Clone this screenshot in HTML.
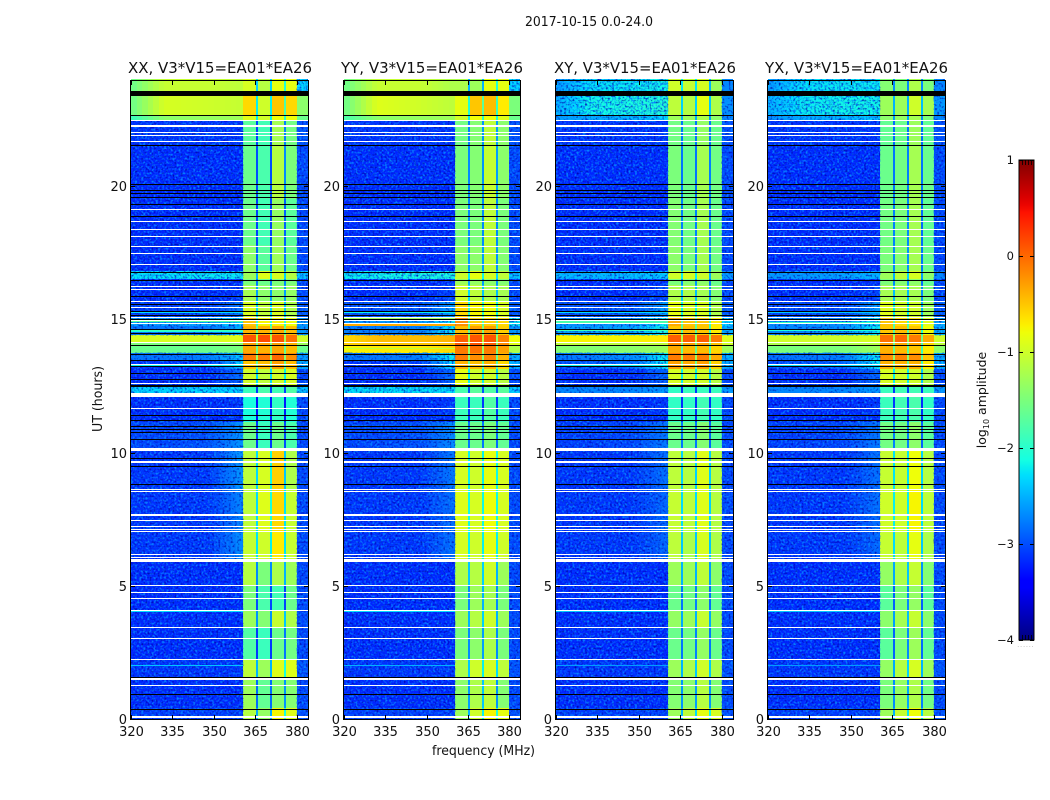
<!DOCTYPE html>
<html lang="en">
<head>
<meta charset="utf-8">
<title>2017-10-15 amplitude waterfall</title>
<style>
html,body{margin:0;padding:0;background:#fff;}
svg{display:block;font-family:"DejaVu Sans","Liberation Sans",sans-serif;fill:#111;}
</style>
</head>
<body>
<svg id="chart" xmlns="http://www.w3.org/2000/svg" width="1050" height="800" viewBox="0 0 1050 800">
  <defs>
    <filter id="speckle-light" x="0" y="0" width="100%" height="100%" color-interpolation-filters="sRGB">
      <feTurbulence type="fractalNoise" baseFrequency="0.48" numOctaves="1" seed="7"/>
      <feColorMatrix type="matrix" values="0 0 0 0 0.02  0 0 0 0 0.5  0 0 0 0 1  3.6 0 0 0 -1.65"/>
    </filter>
    <filter id="speckle-dark" x="0" y="0" width="100%" height="100%" color-interpolation-filters="sRGB">
      <feTurbulence type="fractalNoise" baseFrequency="0.48" numOctaves="1" seed="23"/>
      <feColorMatrix type="matrix" values="0 0 0 0 0  0 0 0 0 0  0 0 0 0 0.65  3 0 0 0 -1.6"/>
    </filter>
    <linearGradient id="colorbar-gradient" x1="0" y1="1" x2="0" y2="0"></linearGradient>
  </defs>
  <text x="589" y="26" font-size="13" text-anchor="middle" textLength="128" lengthAdjust="spacingAndGlyphs">2017-10-15 0.0-24.0</text>
  <text x="483.5" y="755" font-size="13" text-anchor="middle" textLength="103" lengthAdjust="spacingAndGlyphs">frequency (MHz)</text>
  <text transform="translate(102,399) rotate(-90)" font-size="13" text-anchor="middle" textLength="66" lengthAdjust="spacingAndGlyphs">UT (hours)</text>
  <text transform="translate(986,400) rotate(-90)" font-size="12.5" text-anchor="middle">log<tspan font-size="8" dy="3">10</tspan><tspan dy="-3"> amplitude</tspan></text>
  <g id="panels"></g>
  <g id="colorbar"></g>
</svg>
<script>
// Axis data
const panelTitles = ['XX, V3*V15=EA01*EA26', 'YY, V3*V15=EA01*EA26', 'XY, V3*V15=EA01*EA26', 'YX, V3*V15=EA01*EA26'];
const freqTicks = [320, 335, 350, 365, 380];
const utTicks = [0, 5, 10, 15, 20];
const colorTicks = [1, 0, -1, -2, -3, -4];

// Out-of-band anchor frequencies (MHz) for the first four amplitude columns
const lowAnchors = [320, 332, 348, 359];
// In-band channel groups (MHz): A, notch, B, notch, C, notch, D, E
const bandEdges = [360.5, 365.1, 365.9, 370.2, 371, 375.2, 376, 380, 384];
// Time bins (UT hours)
const utEdges = [0, .4, 1.45, 2.25, 3.4, 4.1, 5, 5.9, 7, 8.6, 10.05, 11.15, 12.1, 12.55, 13.15, 13.45, 13.75, 14, 14.15, 14.4, 14.75, 15.1, 15.7, 16.3, 16.5, 16.8, 17.8, 19.5, 21.5, 22.45, 22.66, 23.38, 23.56, 24];
const notchDepth = [1.2];

// log10 amplitude per time bin: a320, a332, a348, a359, A, B, C, D, E
const ampXX = [
[-3.1,-3.1,-3.1,-3.1,-1.15,-1.35,-.75,-.9,-3],
[-3.2,-3.2,-3.2,-3.2,-1.3,-1.65,-1.45,-1.45,-3.05],
[-3.15,-3.15,-3.15,-3.15,-1.1,-1.3,-.9,-.9,-3],
[-3.2,-3.2,-3.2,-3.2,-1.75,-1.9,-1.6,-1.55,-3.05],
[-3.2,-3.2,-3.2,-3.2,-1.3,-1.45,-1.05,-1.2,-3.05],
[-3.2,-3.2,-3.2,-3.2,-1.5,-1.8,-1.85,-1.6,-3.05],
[-3.2,-3.2,-3.2,-3.2,-1.15,-1.5,-1.2,-1.3,-3.05],
[-3.15,-3.15,-3.15,-2.7,-1.05,-1,-.7,-1.05,-3.05],
[-3.15,-3.15,-3.15,-2.75,-1.1,-.9,-.6,-1.05,-3.05],
[-3.15,-3.15,-3.15,-2.65,-1.1,-.95,-.55,-1.2,-3.05],
[-3.05,-3.05,-3,-2.65,-1.6,-1.9,-1.6,-1.8,-3.05],
[-3.2,-3.2,-3.2,-3.15,-2.1,-2.05,-1.95,-2.05,-3.05],
[-2.3,-2.3,-2.3,-2.3,-1.9,-1.8,-1.85,-1.75,-2.35],
[-3.2,-3.2,-3.2,-2.9,-1,-1.1,-1,-.95,-3.05],
[-3.15,-3.15,-3.15,-2.4,-.5,-.45,-.3,-.45,-2.5],
[-2.8,-2.8,-2.75,-2.4,-.1,-.1,0,-.2,-2.6],
[-1.6,-1.6,-1.6,-1.5,-.35,-.4,-.35,-.45,-1.6],
[-1.5,-1.5,-1.5,-1.4,-.3,-.3,-.3,-.4,-1.3],
[-.95,-.95,-.95,-.9,.1,.15,.1,-.05,-1],
[-2.8,-2.8,-2.8,-2.5,-.4,-.4,-.35,-.45,-2.6],
[-2.55,-2.55,-2.55,-2.3,-.5,-.75,-.75,-.8,-2.6],
[-3.1,-3.1,-3.1,-2.8,-.95,-1.1,-.95,-1.2,-2.95],
[-3.2,-3.2,-3.2,-3.15,-1.25,-1.4,-1.4,-1.35,-3.05],
[-3.2,-3.2,-3.2,-3.15,-1.5,-1.6,-1.5,-1.5,-3.05],
[-2.25,-2.25,-2.2,-2.2,-1.3,-.9,-.95,-1.15,-2.4],
[-3.2,-3.2,-3.2,-3.2,-1.4,-1.7,-1.3,-1.6,-3.05],
[-3.2,-3.2,-3.2,-3.2,-1.6,-1.85,-1.35,-1.7,-3.05],
[-3.2,-3.2,-3.2,-3.2,-1.6,-1.8,-1.15,-1.5,-3.05],
[-3.15,-3.15,-3.15,-3.15,-1.7,-1.85,-1.25,-1.55,-3],
[-1.9,-1.4,-1.35,-1.3,-.9,-1,-.8,-.8,-1.6],
[-1.6,-.95,-1,-1.05,-.6,-1,-.5,-.6,-1.4],
[-1.6,-1,-1,-1.05,-.6,-1,-.5,-.6,-1.4],
[-1.6,-1.05,-1.05,-1.1,-.95,-1.15,-.85,-.85,-2.3]
];
const ampYY = [
[-3.1,-3.1,-3.1,-3.1,-1.3,-1,-.75,-.85,-3],
[-3.2,-3.2,-3.2,-3.2,-1.4,-1.2,-1.1,-1.45,-3.05],
[-3.15,-3.15,-3.15,-3.15,-1.2,-1,-.95,-1.1,-3],
[-3.2,-3.2,-3.2,-3.2,-1.5,-1.4,-1.2,-1.5,-3.05],
[-3.2,-3.2,-3.2,-3.2,-1.3,-1.15,-1,-1.3,-3.05],
[-3.2,-3.2,-3.2,-3.2,-1.5,-1.3,-1.25,-1.5,-3.05],
[-3.2,-3.2,-3.2,-3.2,-1.2,-1.15,-1,-1.3,-3.05],
[-3.15,-3.15,-3.15,-2.85,-.95,-1,-.85,-1,-3.05],
[-3.15,-3.15,-3.15,-2.85,-.9,-.95,-.8,-.95,-3.05],
[-3.15,-3.15,-3.15,-2.8,-.95,-1,-.85,-.95,-3.05],
[-3.05,-3.05,-3,-2.7,-1.6,-1.6,-1.5,-1.65,-3.05],
[-3.2,-3.2,-3.2,-3.15,-1.9,-1.9,-1.75,-1.9,-3.05],
[-2.25,-2.25,-2.25,-2.25,-1.8,-1.7,-1.75,-1.7,-2.35],
[-3.2,-3.2,-3.2,-2.9,-.85,-1,-1,-1.15,-3.05],
[-3.15,-3.15,-3.1,-2.3,-.4,-.45,-.4,-.6,-2.5],
[-2.8,-2.8,-2.75,-2.2,-.1,-.2,-.15,-.4,-2.5],
[-.75,-.7,-.7,-.6,-.1,-.05,-.1,-.3,-1.2],
[-.55,-.5,-.5,-.45,.05,.1,.05,-.2,-.9],
[-.6,-.45,-.45,-.4,.05,.1,.1,-.15,-.8],
[-2.75,-2.75,-2.75,-2.2,-.45,-.3,-.3,-.55,-2.6],
[-2.6,-2.6,-2.6,-2.2,-.2,-.55,-.55,-.6,-2.2],
[-3,-3,-3,-2.6,-.6,-.75,-.8,-.95,-2.95],
[-3.2,-3.2,-3.2,-3.1,-1,-1.1,-1.2,-1.25,-3.05],
[-3.2,-3.2,-3.2,-3.15,-1.3,-1.35,-1.4,-1.45,-3.05],
[-2.2,-2.15,-2.1,-2.1,-1,-.85,-.95,-1.1,-2.35],
[-3.2,-3.2,-3.2,-3.2,-1.4,-1.4,-1.1,-1.45,-3.05],
[-3.2,-3.2,-3.2,-3.2,-1.5,-1.5,-1.1,-1.5,-3.05],
[-3.2,-3.2,-3.2,-3.2,-1.5,-1.45,-1.05,-1.4,-3.05],
[-3.15,-3.15,-3.15,-3.15,-1.55,-1.45,-1.1,-1.4,-3],
[-1.8,-1.4,-1.35,-1.3,-1,-.8,-.8,-.9,-1.6],
[-1.6,-.9,-1,-1.1,-.85,-.5,-.45,-.7,-1.5],
[-1.6,-.95,-1,-1.1,-.85,-.5,-.45,-.7,-1.5],
[-1.6,-1.05,-1.05,-1.2,-1.2,-1.3,-.85,-.85,-2.3]
];
const ampXY = [
[-3.1,-3.1,-3.1,-3.1,-1.3,-1.1,-.85,-.95,-3],
[-3.2,-3.2,-3.2,-3.2,-1.45,-1.4,-1.15,-1.45,-3.05],
[-3.15,-3.15,-3.15,-3.15,-1.3,-1.2,-1,-1.2,-3],
[-3.2,-3.2,-3.2,-3.2,-1.6,-1.55,-1.35,-1.6,-3.05],
[-3.2,-3.2,-3.2,-3.2,-1.35,-1.3,-1.05,-1.35,-3.05],
[-3.2,-3.2,-3.2,-3.2,-1.6,-1.55,-1.4,-1.65,-3.05],
[-3.2,-3.2,-3.2,-3.2,-1.3,-1.3,-1.1,-1.4,-3.05],
[-3.15,-3.15,-3.15,-2.9,-1.1,-1.2,-.95,-1.2,-3.05],
[-3.15,-3.15,-3.15,-2.9,-1.05,-1.1,-.9,-1.15,-3.05],
[-3.15,-3.15,-3.15,-2.85,-1.1,-1.15,-.9,-1.15,-3.05],
[-3.1,-3.1,-3.05,-2.8,-1.6,-1.6,-1.45,-1.7,-3.05],
[-3.2,-3.2,-3.2,-3.15,-1.95,-1.95,-1.85,-1.95,-3.05],
[-2.7,-2.7,-2.7,-2.6,-1.95,-1.9,-1.9,-1.9,-2.6],
[-3.2,-3.2,-3.2,-2.9,-.95,-1,-1,-1.15,-3.05],
[-3,-2.95,-2.85,-2.2,-.3,-.35,-.3,-.55,-2.5],
[-2.8,-2.75,-2.65,-2.2,-.1,-.1,-.1,-.35,-2.5],
[-1.45,-1.45,-1.4,-1.3,-.35,-.45,-.45,-.6,-1.3],
[-1.1,-1.1,-1.15,-1.1,-.25,-.3,-.3,-.5,-1],
[-.75,-.75,-.75,-.7,.05,.05,.05,-.1,-.9],
[-2.55,-2.55,-2.55,-2.1,-.5,-.45,-.5,-.7,-2.5],
[-2.6,-2.6,-2.6,-2.2,-.35,-.5,-.5,-.7,-2.3],
[-3,-3,-3,-2.6,-.85,-.95,-.95,-1.2,-2.95],
[-3.2,-3.2,-3.2,-3.1,-1.2,-1.2,-1.25,-1.45,-3.05],
[-3.2,-3.2,-3.2,-3.15,-1.5,-1.45,-1.4,-1.6,-3.05],
[-2.45,-2.45,-2.4,-2.35,-1,-.95,-1,-1.3,-2.6],
[-3.2,-3.2,-3.2,-3.2,-1.4,-1.5,-1.25,-1.55,-3.05],
[-3.2,-3.2,-3.2,-3.2,-1.45,-1.55,-1.25,-1.6,-3.05],
[-3.2,-3.2,-3.2,-3.2,-1.5,-1.6,-1.25,-1.55,-3.05],
[-3.15,-3.15,-3.15,-3.15,-1.55,-1.6,-1.35,-1.6,-3],
[-2.6,-2.5,-2.45,-2.3,-1.3,-1.3,-1.2,-1.4,-2.7],
[-2.5,-2.15,-2.1,-2.05,-1.1,-1.15,-.85,-1.2,-2.65],
[-2.5,-2.15,-2.1,-2.05,-1.1,-1.15,-.85,-1.2,-2.65],
[-2.6,-2.25,-2.2,-2.15,-1,-1.05,-.95,-1.3,-2.7]
];
const ampYX = [
[-3.1,-3.1,-3.1,-3.1,-1.3,-1.05,-.8,-1.15,-3],
[-3.2,-3.2,-3.2,-3.2,-1.5,-1.35,-1.2,-1.55,-3.05],
[-3.15,-3.15,-3.15,-3.15,-1.35,-1.15,-.95,-1.3,-3],
[-3.2,-3.2,-3.2,-3.2,-1.7,-1.5,-1.3,-1.65,-3.05],
[-3.2,-3.2,-3.2,-3.2,-1.4,-1.25,-1.05,-1.4,-3.05],
[-3.2,-3.2,-3.2,-3.2,-1.7,-1.5,-1.35,-1.7,-3.05],
[-3.2,-3.2,-3.2,-3.2,-1.35,-1.2,-1.05,-1.45,-3.05],
[-3.15,-3.15,-3.15,-2.9,-1.05,-1.1,-.85,-1.2,-3.05],
[-3.15,-3.15,-3.15,-2.85,-1,-1,-.75,-1.1,-3.05],
[-3.15,-3.15,-3.15,-2.85,-1.05,-1.05,-.8,-1.15,-3.05],
[-3.1,-3.1,-3.05,-2.8,-1.55,-1.55,-1.4,-1.7,-3.05],
[-3.2,-3.2,-3.2,-3.15,-1.9,-1.85,-1.8,-1.95,-3.05],
[-2.7,-2.7,-2.7,-2.6,-1.9,-1.85,-1.85,-1.9,-2.6],
[-3.2,-3.2,-3.2,-2.9,-.95,-1,-1,-1.2,-3.05],
[-3.05,-3,-2.9,-2.2,-.4,-.4,-.4,-.7,-2.5],
[-2.85,-2.8,-2.75,-2.2,-.2,-.15,-.2,-.5,-2.5],
[-1.5,-1.5,-1.5,-1.3,-.4,-.45,-.5,-.7,-1.4],
[-1.2,-1.2,-1.2,-1.15,-.3,-.35,-.35,-.6,-1.1],
[-1,-1,-1,-.95,-.05,0,-.1,-.35,-1],
[-2.7,-2.7,-2.65,-2.2,-.5,-.45,-.5,-.8,-2.5],
[-2.65,-2.65,-2.65,-2.2,-.5,-.6,-.65,-.9,-2.5],
[-3.05,-3.05,-3.05,-2.6,-.9,-1,-1,-1.3,-2.95],
[-3.2,-3.2,-3.2,-3.1,-1.25,-1.25,-1.25,-1.5,-3.05],
[-3.2,-3.2,-3.2,-3.15,-1.5,-1.45,-1.4,-1.65,-3.05],
[-2.6,-2.6,-2.55,-2.45,-1.3,-1.1,-.95,-1.4,-2.7],
[-3.2,-3.2,-3.2,-3.2,-1.5,-1.45,-1.25,-1.6,-3.05],
[-3.2,-3.2,-3.2,-3.2,-1.55,-1.5,-1.25,-1.65,-3.05],
[-3.2,-3.2,-3.2,-3.2,-1.6,-1.55,-1.25,-1.6,-3.05],
[-3.15,-3.15,-3.15,-3.15,-1.65,-1.6,-1.3,-1.65,-3],
[-2.65,-2.5,-2.45,-2.35,-1.4,-1.35,-1.25,-1.5,-2.7],
[-2.5,-2.2,-2.15,-2.15,-1.3,-1.3,-1,-1.25,-2.6],
[-2.5,-2.2,-2.15,-2.15,-1.3,-1.3,-1,-1.25,-2.6],
[-2.6,-2.25,-2.2,-2.2,-1.45,-1.5,-1.2,-1.5,-2.7]
];
const panelAmps = [ampXX, ampYY, ampXY, ampYX];

// Thin out-of-band streaks per polarisation: [UT centre, duration hours, log10 amplitude]
const streaksXX = [[2.02,.04,-2.4],[4.03,.04,-2.3],[13.3,.06,-2.2],[14.62,.06,-1.9],[14.52,.05,-2.1],[14.95,.06,-1.7],[15.25,.05,-2.3]];
const streaksYY = [[2.02,.04,-2.5],[4.03,.04,-2.3],[13.9,.05,-1.1],[14.8,.07,-.35],[15,.06,-1.3],[15.25,.05,-2.2]];
const streaksXY = [[2.02,.04,-2.6],[4.03,.04,-2.4],[13.3,.06,-2.2],[14.62,.06,-1.9],[14.9,.06,-1.8],[15.25,.05,-2.3]];
const streaksYX = [[2.02,.04,-2.6],[4.03,.04,-2.4],[13.3,.06,-2.3],[14.62,.06,-2.1],[14.85,.06,-1.9],[15.25,.05,-2.4]];
const panelStreaks = [streaksXX, streaksYY, streaksXY, streaksYX];

// Flagged integrations [UT centre, duration hours]
const whiteFlags = [[.075,.08],[1.265,.05],[1.49,.08],[2.24,.05],[3,.05],[3.44,.05],[4.06,.05],[4.515,.05],[4.74,.05],[5,.05],[5.95,.13],[6.05,.05],[6.165,.05],[7.02,.05],[7.12,.05],[7.215,.05],[7.44,.05],[7.64,.09],[8.52,.05],[8.59,.05],[9.655,.07],[10.13,.1],[11.66,.05],[12.16,.15],[12.57,.05],[13.31,.05],[14.135,.05],[14.85,.05],[14.945,.05],[15.07,.05],[15.45,.05],[15.66,.05],[16.12,.05],[16.22,.05],[17.04,.05],[17.45,.05],[17.71,.05],[18.09,.05],[18.35,.05],[18.65,.05],[19.1,.05],[21.65,.05],[21.89,.05],[22,.05],[22.24,.08],[22.47,.05]];
const blackFlags = [[23.47,.18],[22.66,.04],[21.53,.04],[20.06,.04],[19.82,.04],[19.7,.04],[19.56,.04],[19.29,.04],[18.84,.04],[16.75,.04],[16.44,.04],[15.87,.04],[15.54,.04],[15.28,.04],[15.15,.04],[15,.04],[14.62,.04],[14.45,.04],[14.03,.04],[13.66,.04],[13.45,.04],[13.22,.04],[12.97,.04],[12.72,.04],[12.48,.09],[11.37,.04],[11.2,.04],[10.99,.04],[10.85,.04],[10.74,.04],[10.5,.04],[9.76,.04],[9.47,.04],[8.81,.04],[1.55,.04],[.93,.04],[.36,.04]];

// Layout
const NS = 'http://www.w3.org/2000/svg';
const panelLeft = [131, 344, 556, 768];
const panelRight = [308, 520, 733, 945];
const plotTop = 81, plotBottom = 719;
const freqMin = 320, freqMax = 384, utMin = 0, utMax = 23.94;
const cbLeft = 1019, cbRight = 1034, cbTop = 160, cbBottom = 640, cbMin = -4, cbMax = 1;
const titleCentre = [220, 432, 645, 856.5];
const titleWidth = [184, 182, 182, 183];
const lowStep = 2;
const speckleCeiling = -2;

function xScale(p, f) { return panelLeft[p] + (f - freqMin) / (freqMax - freqMin) * (panelRight[p] - panelLeft[p]); }
function yScale(u) { return plotBottom - (u - utMin) / (utMax - utMin) * (plotBottom - plotTop); }
function cbScale(v) { return cbBottom - (v - cbMin) / (cbMax - cbMin) * (cbBottom - cbTop); }
function lerpStops(t, s) {
  if (t <= s[0][0]) return s[0][1];
  for (let i = 1; i < s.length; i++) {
    if (t <= s[i][0]) return s[i-1][1] + (s[i][1] - s[i-1][1]) * (t - s[i-1][0]) / (s[i][0] - s[i-1][0]);
  }
  return s[s.length-1][1];
}
function jet(v) {
  const t = Math.max(0, Math.min(1, (v - cbMin) / (cbMax - cbMin)));
  const r = lerpStops(t, [[0,0],[.35,0],[.66,1],[.89,1],[1,.5]]);
  const g = lerpStops(t, [[0,0],[.125,0],[.375,1],[.64,1],[.91,0],[1,0]]);
  const b = lerpStops(t, [[0,.5],[.11,1],[.34,1],[.65,0],[1,0]]);
  return 'rgb(' + Math.round(r*255) + ',' + Math.round(g*255) + ',' + Math.round(b*255) + ')';
}
function make(parent, tag, props) {
  const el = document.createElementNS(NS, tag);
  for (const k in props) el.setAttribute(k, props[k]);
  parent.appendChild(el);
  return el;
}
function lowValue(row, f) {
  return lerpStops(f, lowAnchors.map(function (a, i) { return [a, row[i]]; }));
}
function bandValues(row) {
  const d = notchDepth[0];
  return [row[4], Math.min(row[4], row[5]) - d, row[5], Math.min(row[5], row[6]) - d, row[6], Math.min(row[6], row[7]) - d, row[7], row[8]];
}

const panelsRoot = document.getElementById('panels');
panelTitles.forEach(function (title, p) {
  const g = make(panelsRoot, 'g', {});
  
  

  const heat = make(g, 'g', {'shape-rendering': 'crispEdges'});
  
  
  const texture = make(g, 'g', {});
  
  

  function addSpeckle(f0, f1, u0, u1) {
    const light = make(texture, 'rect', {x: xScale(p, f0), y: yScale(u1), width: xScale(p, f1) - xScale(p, f0), height: yScale(u0) - yScale(u1), filter: 'url(#speckle-light)'});
    
    
    const dark = make(texture, 'rect', {x: xScale(p, f0), y: yScale(u1), width: xScale(p, f1) - xScale(p, f0), height: yScale(u0) - yScale(u1), filter: 'url(#speckle-dark)'});
    
    
  }

  panelAmps[p].forEach(function (row, r) {
    const y0 = Math.round(yScale(utEdges[r+1])), y1 = Math.round(yScale(utEdges[r]));
    for (let f = lowAnchors[0]; f < bandEdges[0]; f += lowStep) {
      const f1 = Math.min(f + lowStep, bandEdges[0]);
      const x0 = Math.round(xScale(p, f)), x1 = Math.round(xScale(p, f1));
      const cell = make(heat, 'rect', {x: x0, y: y0, width: x1 - x0, height: y1 - y0, fill: jet(lowValue(row, f + lowStep / 2))});
      
      
    }
    bandValues(row).forEach(function (v, c) {
      const x0 = Math.round(xScale(p, bandEdges[c])), x1 = Math.round(xScale(p, bandEdges[c+1]));
      const cell = make(heat, 'rect', {x: x0, y: y0, width: x1 - x0, height: y1 - y0, fill: jet(v)});
      
      
    });
    if (row[1] < speckleCeiling) addSpeckle(lowAnchors[0], bandEdges[0], utEdges[r], utEdges[r+1]);
    if (row[8] < speckleCeiling) addSpeckle(bandEdges[7], bandEdges[8], utEdges[r], utEdges[r+1]);
  });

  const streaks = make(g, 'g', {'shape-rendering': 'crispEdges'});
  
  
  panelStreaks[p].forEach(function (s) {
    const y0 = Math.round(yScale(s[0] + s[1] / 2));
    const h = Math.max(1, Math.round(yScale(s[0] - s[1] / 2) - yScale(s[0] + s[1] / 2)));
    const x0 = Math.round(xScale(p, lowAnchors[0])), x1 = Math.round(xScale(p, bandEdges[0]));
    const line = make(streaks, 'rect', {x: x0, y: y0, width: x1 - x0, height: h, fill: jet(s[2])});
    
    
  });

  const flags = make(g, 'g', {'shape-rendering': 'crispEdges'});
  
  
  whiteFlags.forEach(function (f) {
    const y0 = Math.round(yScale(f[0] + f[1] / 2));
    const h = Math.max(1, Math.round(yScale(f[0] - f[1] / 2) - yScale(f[0] + f[1] / 2)));
    const line = make(flags, 'rect', {x: panelLeft[p], y: y0, width: panelRight[p] - panelLeft[p], height: h, fill: '#fff'});
    
    
  });
  blackFlags.forEach(function (f) {
    const y0 = Math.round(yScale(f[0] + f[1] / 2));
    const h = Math.max(1, Math.round(yScale(f[0] - f[1] / 2) - yScale(f[0] + f[1] / 2)));
    const line = make(flags, 'rect', {x: panelLeft[p], y: y0, width: panelRight[p] - panelLeft[p], height: h, fill: '#000'});
    
    
  });

  const frame = make(g, 'rect', {x: panelLeft[p] - .5, y: plotTop - .5, width: panelRight[p] - panelLeft[p] + 1, height: plotBottom - plotTop + 1, fill: 'none', stroke: '#000', 'stroke-width': 1, 'shape-rendering': 'crispEdges'});
  
  

  const t = make(g, 'text', {x: titleCentre[p], y: 73, 'font-size': 15.5, 'text-anchor': 'middle', textLength: titleWidth[p], lengthAdjust: 'spacingAndGlyphs'});
  t.textContent = title;
  
  

  freqTicks.forEach(function (f) {
    const x = Math.round(xScale(p, f)) + .5;
    const a = make(g, 'line', {x1: x, x2: x, y1: plotBottom, y2: plotBottom - 4, stroke: '#000', 'stroke-width': 1});
    
    
    const b = make(g, 'line', {x1: x, x2: x, y1: plotTop, y2: plotTop + 4, stroke: '#000', 'stroke-width': 1});
    
    
    const lab = make(g, 'text', {x: x, y: 736, 'font-size': 13, 'text-anchor': 'middle'});
    lab.textContent = f;
    
    
  });
  utTicks.forEach(function (u) {
    const y = Math.round(yScale(u)) + .5;
    const a = make(g, 'line', {x1: panelLeft[p], x2: panelLeft[p] + 4, y1: y, y2: y, stroke: '#000', 'stroke-width': 1});
    
    
    const b = make(g, 'line', {x1: panelRight[p], x2: panelRight[p] - 4, y1: y, y2: y, stroke: '#000', 'stroke-width': 1});
    
    
    const lab = make(g, 'text', {x: panelLeft[p] - 4, y: y + 4.5, 'font-size': 13, 'text-anchor': 'end'});
    lab.textContent = u;
    
    
  });
});

// Colorbar
const grad = document.getElementById('colorbar-gradient');
for (let i = 0; i <= 64; i++) {
  const s = make(grad, 'stop', {offset: (i / 64), 'stop-color': jet(cbMin + (cbMax - cbMin) * i / 64)});
}
const cb = document.getElementById('colorbar');
const cbFill = make(cb, 'rect', {x: cbLeft, y: cbTop, width: cbRight - cbLeft, height: cbBottom - cbTop, fill: 'url(#colorbar-gradient)', stroke: '#000', 'stroke-width': 1, 'shape-rendering': 'crispEdges'});


colorTicks.forEach(function (v) {
  const y = Math.round(cbScale(v)) + .5;
  const a = make(cb, 'line', {x1: cbLeft, x2: cbLeft + 4, y1: y, y2: y, stroke: '#000', 'stroke-width': 1});
  
  
  const b = make(cb, 'line', {x1: cbRight, x2: cbRight - 4, y1: y, y2: y, stroke: '#000', 'stroke-width': 1});
  
  
  const lab = make(cb, 'text', {x: 1014, y: y + 3.5, 'font-size': 11.5, 'text-anchor': 'end'});
  lab.textContent = String(v).replace('-', '\u2212');
  
  
});
for (let i = 1; i <= 4; i++) {
  const x = Math.round(cbLeft + (cbRight - cbLeft) * i / 5) + .5;
  const a = make(cb, 'line', {x1: x, x2: x, y1: cbTop, y2: cbTop + 5, stroke: '#000', 'stroke-width': 1, opacity: .8});
  
  
  const b = make(cb, 'line', {x1: x, x2: x, y1: cbBottom, y2: cbBottom - 5, stroke: '#000', 'stroke-width': 1, opacity: .8});
  
  
}
const dots = make(cb, 'text', {x: 1026, y: 647, 'font-size': 6, 'text-anchor': 'middle', fill: '#999', 'letter-spacing': '1'});
dots.textContent = '......';


</script>
</body>
</html>
